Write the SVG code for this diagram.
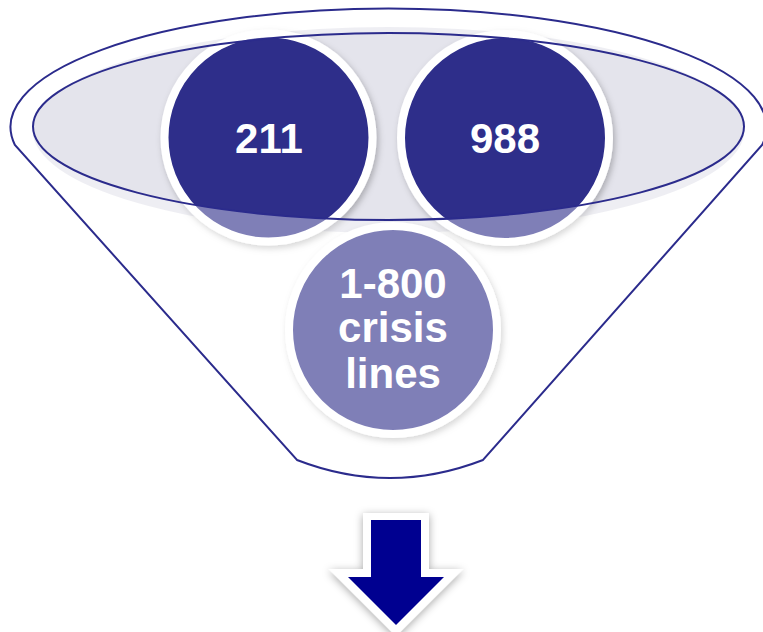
<svg xmlns="http://www.w3.org/2000/svg" width="763" height="632" viewBox="0 0 763 632">
  <style>
    .lbl { font-family: "Liberation Sans", Arial, sans-serif; font-weight: bold; font-size: 42px; fill: #ffffff; text-anchor: middle; }
    .ring { fill: #2e2e8a; stroke: #ffffff; stroke-width: 8; }
    .outline { fill: none; stroke: #2b2b8c; stroke-width: 2; }
  </style>
  <defs>
    <filter id="sh" x="-20%" y="-20%" width="140%" height="140%">
      <feDropShadow dx="2" dy="3" stdDeviation="3" flood-color="#000000" flood-opacity="0.25"/>
    </filter>
    <filter id="ash" x="-30%" y="-30%" width="160%" height="160%">
      <feDropShadow dx="0" dy="2" stdDeviation="4" flood-color="#000000" flood-opacity="0.35"/>
    </filter>
  </defs>
  <rect width="763" height="632" fill="#ffffff"/>

  <g id="funnel-interior">
    <ellipse cx="388.5" cy="130" rx="356" ry="103" fill="#e4e4ec"/>
    <ellipse cx="388.5" cy="126.5" rx="355.5" ry="93.5" fill="#e4e4ec"/>
  </g>

  <g id="node-211" filter="url(#sh)">
    <circle class="ring" cx="268.5" cy="137.5" r="104"/>
  </g>
  <g id="node-988" filter="url(#sh)">
    <circle class="ring" cx="505" cy="138" r="104"/>
  </g>
  <g id="node-1800" filter="url(#sh)">
    <circle class="ring" cx="393" cy="330" r="104"/>
  </g>

  <g id="funnel">
    <path d="M 14.9 145 A 378 118.5 0 1 1 762.1 145 L 483 460 Q 390 496 297 460 Z M 33 126.5 A 355.5 93.5 0 1 0 744 126.5 A 355.5 93.5 0 1 0 33 126.5 Z" fill="#ffffff" fill-opacity="0.39" fill-rule="evenodd"/>
    <path class="outline" d="M 14.9 145 A 378 118.5 0 1 1 762.1 145 L 483 460 Q 390 496 297 460 Z"/>
    <ellipse class="outline" cx="388.5" cy="126.5" rx="355.5" ry="93.5"/>
  </g>

  <g id="labels">
    <text class="lbl" x="269" y="153">211</text>
    <text class="lbl" x="505" y="153">988</text>
    <text class="lbl" x="393" y="298">1-800</text>
    <text class="lbl" x="393" y="342">crisis</text>
    <text class="lbl" x="393" y="388">lines</text>
  </g>

  <g id="arrow">
    <polygon points="363,513 429,513 429,569 463.3,569 396,636.3 328.7,569 363,569" fill="#ffffff" filter="url(#ash)"/>
    <polygon points="371,520 421,520 421,577 444,577 396,625 348,577 371,577" fill="#000090"/>
  </g>
</svg>
